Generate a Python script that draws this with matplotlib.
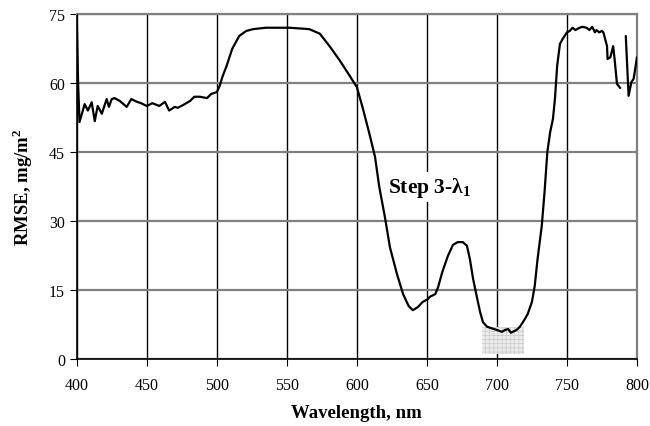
import numpy as np
import matplotlib
matplotlib.use('Agg')
import matplotlib.pyplot as plt
from matplotlib.patches import Rectangle

plt.rcParams['font.family'] = ['Liberation Serif', 'DejaVu Serif']
plt.rcParams['mathtext.fontset'] = 'custom'
plt.rcParams['mathtext.rm'] = 'Liberation Serif'
plt.rcParams['mathtext.bf'] = 'Liberation Serif:bold'
plt.rcParams['hatch.linewidth'] = 0.5

# RMSE curve
wl = [400, 401, 402, 405.7, 408, 410.7, 412.9, 415, 417.9, 421.4, 423, 425, 427,
      430.7, 435.7, 439, 443, 446, 450, 454, 459, 463, 466, 470, 472, 476, 481,
      484, 488, 493, 496, 500, 502, 504, 507, 511, 516, 521, 526, 535, 552, 566,
      573.6, 581, 588, 595, 600, 604, 609, 613, 616, 620, 623.6, 628.6, 633, 637,
      640, 643.6, 647, 650.7, 652, 656, 658, 661, 665, 668.6, 672, 675.7, 678.6,
      680.7, 683, 686, 688, 690, 693, 697, 700, 703.6, 705.7,
      708, 710, 714, 716.4, 720, 722, 725, 727, 729, 732, 734, 736, 738, 740,
      741.4, 743, 745, 747, 750, 752, 754, 756, 759, 761, 764, 766, 768, 770, 771, 773,
      775, 776, 778.6, 779, 781, 783, 784, 785.7, 788, 790,
      792, 794, 796, 797.6, 800]
rmse = [75, 60, 51.5, 55.4, 54, 55.8, 51.7, 55, 53.3, 56.5, 54.8, 56.5, 56.7,
        56.1, 54.8, 56.5, 55.9, 55.6, 55, 55.6, 55, 55.9, 54, 54.8, 54.6, 55.2, 56.1,
        57, 57, 56.7, 57.6, 58, 59.3, 61.3, 63.7, 67.4, 70.2, 71.3, 71.7, 72, 72, 71.7,
        70.7, 67.8, 64.8, 61.5, 59.1, 54.8, 48.9, 43.9, 37.4, 30.9, 24.3, 18.5, 14.1, 11.5,
        10.6, 11.3, 12.4, 13, 13.5, 14.1, 15.6, 18.9, 22.4, 24.8, 25.4, 25.4, 24.6,
        21.7, 17.4, 13, 10.2, 8, 7, 6.6, 6.3, 5.9, 6.3,
        6.5, 5.7, 6.3, 7, 8.7, 9.8, 12.4, 15.9, 21.7, 28.9, 36.3, 45, 49.3, 52.2,
        56.5, 63.7, 68.5, 69.6, 71, 71.3, 72, 71.5, 72, 72.2, 72, 71.5, 72.2, 71, 71.5, 71,
        71.3, 71, 68, 65.2, 65.6, 68, 65.2, 59.8, 58.9, np.nan,
        70.2, 57.2, 60.2, 60.9, 65.6]

xticks = [400, 450, 500, 550, 600, 650, 700, 750, 800]
yticks = [0, 15, 30, 45, 60, 75]

fig, ax = plt.subplots(figsize=(6.5, 4.27), dpi=100)
fig.subplots_adjust(left=0.118, right=0.98, top=0.965, bottom=0.157)

# shaded band of the selected minimum
ax.add_patch(Rectangle((689, 1.1), 30, 5.9, facecolor='#ececec', edgecolor='#c8c8c8',
                       hatch='++++', linewidth=0, zorder=1))

ax.plot(wl, rmse, color='black', linewidth=1.6, zorder=3,
        solid_joinstyle='round', solid_capstyle='round')

ax.set_xlim(400, 800)
ax.set_ylim(0, 75)
ax.set_xticks(xticks)
ax.set_yticks(yticks)
ax.tick_params(labelsize=11.5, direction='out', length=5, color='black')
ax.tick_params(axis='x', pad=8)

ax.xaxis.grid(True, color='black', linewidth=1)
ax.yaxis.grid(True, color='#808080', linewidth=1.6)
ax.set_axisbelow(True)

for s in ['left', 'bottom']:
    ax.spines[s].set_color('black')
    ax.spines[s].set_linewidth(1.2)
for s in ['top', 'right']:
    ax.spines[s].set_color('#808080')
    ax.spines[s].set_linewidth(1.6)

ax.set_xlabel('Wavelength, nm', fontsize=13.5, fontweight='bold', labelpad=8)
ax.set_ylabel('RMSE, mg/m$^\\mathbf{2}$', fontsize=13.5, fontweight='bold', labelpad=10)

ax.text(652, 37.4, 'Step 3-$\\mathbf{\\lambda}_\\mathbf{1}$', fontsize=15.5, fontweight='bold',
        ha='center', va='center', zorder=4,
        bbox=dict(facecolor='white', edgecolor='none', pad=2))

plt.savefig('out.png')
